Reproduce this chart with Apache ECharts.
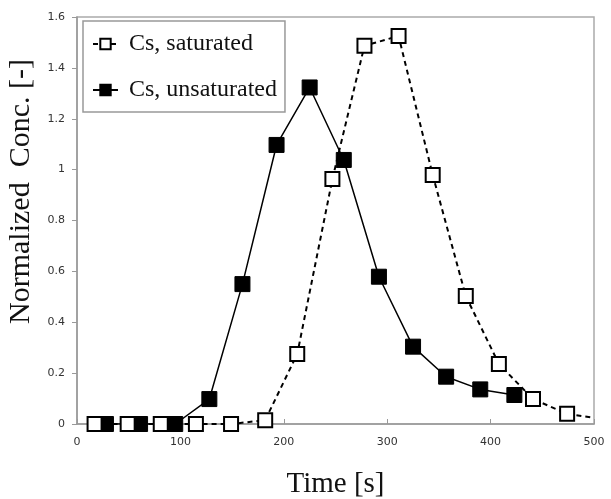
<!DOCTYPE html>
<html><head><meta charset="utf-8">
<script src="https://cdn.jsdelivr.net/npm/echarts@6/dist/echarts.min.js"></script>
<style>html,body{margin:0;padding:0;background:#fff}#c{width:611px;height:499px}</style>
</head><body><div id="c"></div>
<script>
const satTime = [17, 49, 81, 115, 149, 182, 213, 247, 278, 311, 344, 376, 408, 441, 474, 500];
const satConc = [0, 0, 0, 0, 0, 0.015, 0.275, 0.963, 1.487, 1.525, 0.979, 0.503, 0.236, 0.098, 0.040, 0.024];
const unsatTime = [28, 61, 95, 128, 160, 193, 225, 258, 292, 325, 357, 390, 423];
const unsatConc = [0, 0, 0, 0.098, 0.55, 1.097, 1.323, 1.038, 0.579, 0.304, 0.186, 0.136, 0.114];
const xTicks = [0, 100, 200, 300, 400, 500];
const yTicks = [0, 0.2, 0.4, 0.6, 0.8, 1, 1.2, 1.4, 1.6];

const satData = satTime.map((t, i) => {
  const item = { value: [t, satConc[i]] };
  if (i === satTime.length - 1) item.symbol = 'none';
  return item;
});
const unsatData = unsatTime.map((t, i) => [t, unsatConc[i]]);

const chart = echarts.init(document.getElementById('c'), null, { renderer: 'canvas' });
chart.setOption({
  animation: false,
  backgroundColor: '#fff',
  grid: { left: 77, right: 17, top: 17, bottom: 75, outerBoundsMode: 'none', containLabel: false,
    show: true, borderColor: '#aaa', borderWidth: 1.5, backgroundColor: 'transparent' },
  legend: {
    orient: 'vertical', left: 83, top: 21,
    padding: [11, 8, 10, 9], itemGap: 22,
    itemWidth: 25, itemHeight: 13,
    borderColor: '#999', borderWidth: 1.5, backgroundColor: '#fff',
    textStyle: { fontFamily: 'Liberation Serif', fontSize: 24, color: '#111', padding: [0, 0, 0, 6] },
    data: ['Cs, saturated', 'Cs, unsaturated']
  },
  xAxis: {
    type: 'value', min: 0, max: 500, interval: 100,
    name: 'Time [s]', nameLocation: 'middle', nameGap: 46,
    nameTextStyle: { fontFamily: 'Liberation Serif', fontSize: 29, color: '#111' },
    axisLine: { show: true, lineStyle: { color: '#999', width: 1.5 } },
    axisTick: { show: true, inside: true, length: 5, lineStyle: { color: '#999' } },
    axisLabel: { fontFamily: 'DejaVu Sans', fontSize: 11, color: '#333', margin: 13, formatter: v => xTicks.includes(v) ? String(v) : '' },
    splitLine: { show: false }
  },
  yAxis: {
    type: 'value', min: 0, max: 1.6, interval: 0.2,
    name: 'Normalized  Conc. [-]', nameLocation: 'middle', nameGap: 40,
    nameTextStyle: { fontFamily: 'Liberation Serif', fontSize: 30, color: '#111', padding: [0, 0, 0, 58] },
    axisLine: { show: true, lineStyle: { color: '#999', width: 1.5 } },
    axisTick: { show: true, inside: false, length: 5, lineStyle: { color: '#999' } },
    axisLabel: { fontFamily: 'DejaVu Sans', fontSize: 11, color: '#333', margin: 12,
      formatter: v => { const m = yTicks.find(t => Math.abs(t - v) < 1e-9); return m === undefined ? '' : String(m); } },
    splitLine: { show: false }
  },
  series: [
    {
      name: 'Cs, saturated', type: 'line', data: satData,
      symbol: 'rect', symbolSize: 14,
      lineStyle: { color: '#000', width: 2, type: [5, 4] },
      itemStyle: { color: '#fff', borderColor: '#000', borderWidth: 2 },
      z: 3
    },
    {
      name: 'Cs, unsaturated', type: 'line', data: unsatData,
      symbol: 'rect', symbolSize: 15,
      lineStyle: { color: '#000', width: 1.5 },
      itemStyle: { color: '#000', borderColor: '#000', borderWidth: 1 },
      z: 2
    }
  ]
});
</script></body></html>
